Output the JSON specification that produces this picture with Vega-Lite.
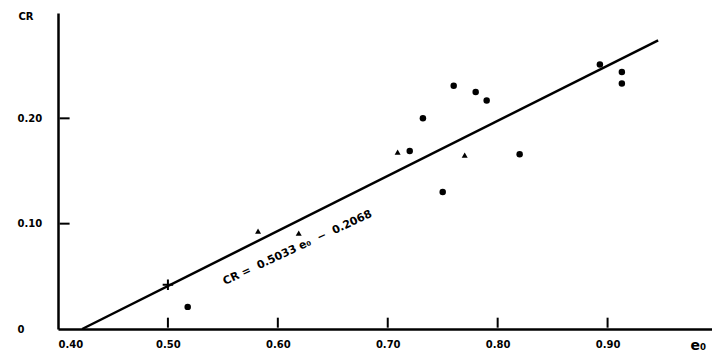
{
  "$schema": "https://vega.github.io/schema/vega-lite/v6.json",
  "width": 654,
  "height": 316,
  "padding": {"left": 58, "top": 13, "right": 0, "bottom": 31},
  "autosize": {"type": "none"},
  "background": "white",
  "config": {
    "view": {"stroke": null},
    "axis": {
      "grid": false,
      "ticks": true,
      "tickSize": 0,
      "tickOpacity": 0,
      "domainColor": "black",
      "domainWidth": 2.5,
      "labelColor": "black",
      "labelFont": "DejaVu Sans",
      "labelFontWeight": "bold",
      "labelFontSize": 10,
      "titleColor": "black",
      "titleFont": "DejaVu Sans",
      "titleFontWeight": "bold"
    }
  },
  "datasets": {
    "fit": [
      {"e0": 0.422, "CR": 0.0},
      {"e0": 0.946, "CR": 0.274}
    ],
    "circles": [
      {"e0": 0.518, "CR": 0.021},
      {"e0": 0.750, "CR": 0.130},
      {"e0": 0.720, "CR": 0.169},
      {"e0": 0.732, "CR": 0.200},
      {"e0": 0.760, "CR": 0.231},
      {"e0": 0.780, "CR": 0.225},
      {"e0": 0.790, "CR": 0.217},
      {"e0": 0.820, "CR": 0.166},
      {"e0": 0.893, "CR": 0.251},
      {"e0": 0.913, "CR": 0.244},
      {"e0": 0.913, "CR": 0.233}
    ],
    "triangles": [
      {"e0": 0.582, "CR": 0.093},
      {"e0": 0.619, "CR": 0.091},
      {"e0": 0.709, "CR": 0.168},
      {"e0": 0.770, "CR": 0.165}
    ],
    "cross": [
      {"e0": 0.500, "CR": 0.042}
    ],
    "xticks": [
      {"e0": 0.5}, {"e0": 0.6}, {"e0": 0.7}, {"e0": 0.8}, {"e0": 0.9}
    ],
    "yticks": [
      {"CR": 0.1}, {"CR": 0.2}
    ],
    "label": [
      {"e0": 0.618, "CR": 0.077, "text": "CR\u00a0=\u00a0\u00a00.5033\u00a0e₀\u00a0\u00a0−\u00a0\u00a00.2068"}
    ]
  },
  "layer": [
    {
      "data": {"name": "fit"},
      "mark": {"type": "line", "color": "black", "strokeWidth": 2.5},
      "encoding": {
        "x": {
          "field": "e0", "type": "quantitative",
          "scale": {"domain": [0.4, 0.995], "nice": false, "zero": false},
          "axis": {
            "values": [0.4, 0.5, 0.6, 0.7, 0.8, 0.9],
            "format": ".2f",
            "labelPadding": 10,
            "title": "e₀",
            "titleFontSize": 14,
            "titleAngle": 0,
            "titleAnchor": "start",
            "titleAlign": "left",
            "titleBaseline": "middle",
            "titleX": 632,
            "titleY": 16
          }
        },
        "y": {
          "field": "CR", "type": "quantitative",
          "scale": {"domain": [0, 0.3], "nice": false},
          "axis": {
            "values": [0, 0.1, 0.2],
            "labelExpr": "datum.value == 0 ? '0' : format(datum.value, '.2f')",
            "labelAlign": "left",
            "labelPadding": 41,
            "title": "CR",
            "titleFontSize": 10,
            "titleAngle": 0,
            "titleAlign": "left",
            "titleBaseline": "middle",
            "titleX": -40,
            "titleY": 3
          }
        }
      }
    },
    {
      "data": {"name": "xticks"},
      "mark": {"type": "tick", "orient": "vertical", "color": "black", "size": 10, "thickness": 2, "opacity": 1},
      "encoding": {
        "x": {"field": "e0", "type": "quantitative"},
        "y": {"datum": 0.006, "type": "quantitative"}
      }
    },
    {
      "data": {"name": "yticks"},
      "mark": {"type": "tick", "orient": "horizontal", "color": "black", "size": 10, "thickness": 2, "opacity": 1},
      "encoding": {
        "y": {"field": "CR", "type": "quantitative"},
        "x": {"datum": 0.406, "type": "quantitative"}
      }
    },
    {
      "data": {"name": "circles"},
      "mark": {"type": "point", "shape": "circle", "filled": true, "color": "black", "opacity": 1, "size": 42},
      "encoding": {
        "x": {"field": "e0", "type": "quantitative"},
        "y": {"field": "CR", "type": "quantitative"}
      }
    },
    {
      "data": {"name": "triangles"},
      "mark": {"type": "point", "shape": "triangle-up", "filled": true, "color": "black", "opacity": 1, "size": 36},
      "encoding": {
        "x": {"field": "e0", "type": "quantitative"},
        "y": {"field": "CR", "type": "quantitative"}
      }
    },
    {
      "data": {"name": "cross"},
      "mark": {"type": "point", "shape": "M-1,0L1,0M0,-1L0,1", "filled": false, "color": "black", "opacity": 1, "strokeWidth": 2, "size": 110},
      "encoding": {
        "x": {"field": "e0", "type": "quantitative"},
        "y": {"field": "CR", "type": "quantitative"}
      }
    },
    {
      "data": {"name": "label"},
      "mark": {"type": "text", "angle": -25, "font": "DejaVu Sans", "fontWeight": "bold", "fontSize": 11, "color": "black", "align": "center", "baseline": "middle"},
      "encoding": {
        "x": {"field": "e0", "type": "quantitative"},
        "y": {"field": "CR", "type": "quantitative"},
        "text": {"field": "text"}
      }
    }
  ]
}
